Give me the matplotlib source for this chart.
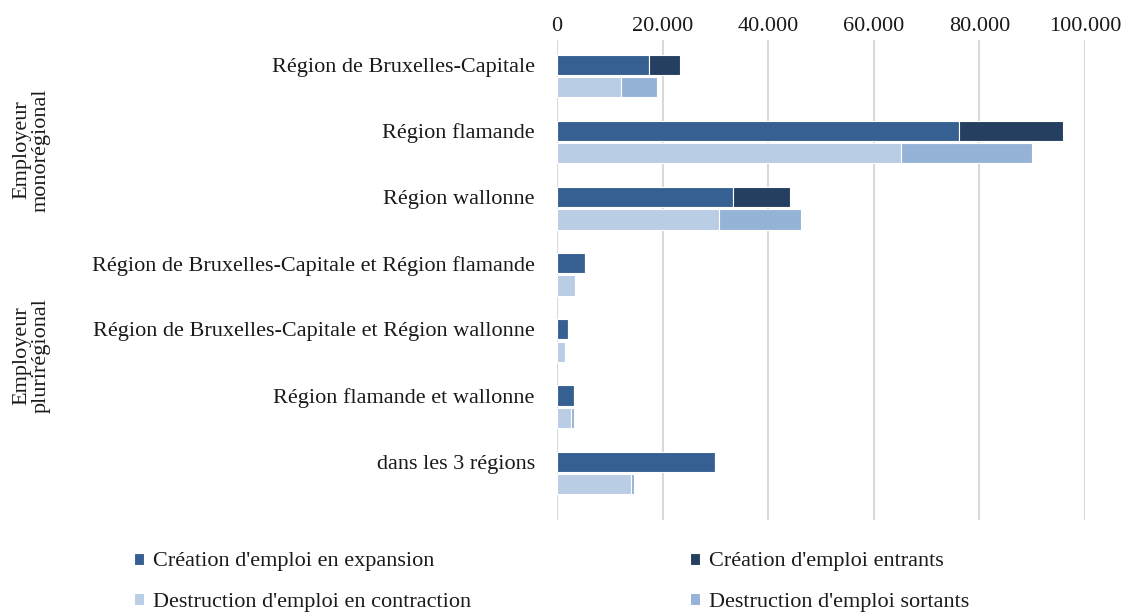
import numpy as np
import matplotlib.pyplot as plt

# Catégories (de haut en bas)
categories = [
    "Région de Bruxelles-Capitale",
    "Région flamande",
    "Région wallonne",
    "Région de Bruxelles-Capitale et Région flamande",
    "Région de Bruxelles-Capitale et Région wallonne",
    "Région flamande et wallonne",
    "dans les 3 régions",
]

creation_expansion = [17400, 76100, 33300, 5200, 2100, 3300, 29900]
creation_entrants = [5850, 19700, 10800, 0, 0, 0, 0]
destruction_contraction = [12100, 65200, 30600, 3400, 1500, 2700, 14000]
destruction_sortants = [6900, 24700, 15700, 100, 0, 500, 650]

x_ticks = [0, 20000, 40000, 60000, 80000, 100000]
x_tick_labels = ["0", "20.000", "40.000", "60.000", "80.000", "100.000"]

col_expansion = "#366092"
col_entrants = "#243F60"
col_contraction = "#B9CDE5"
col_sortants = "#95B3D7"
txt = "#1A1A1A"

plt.rcParams['font.family'] = ['Liberation Serif', 'DejaVu Serif']

fig = plt.figure(figsize=(11.24, 6.12), dpi=100)
ax = fig.add_axes([0.4956, 0.1503, 0.4697, 0.7843])

y = np.arange(len(categories))
h = 0.305
off = 0.337

b1 = ax.barh(y, creation_expansion, height=h, color=col_expansion, edgecolor="white", linewidth=0.8,
             label="Création d'emploi en expansion", zorder=3)
b2 = ax.barh(y, creation_entrants, left=creation_expansion, height=h, color=col_entrants,
             edgecolor="white", linewidth=0.8, label="Création d'emploi entrants", zorder=3)
b3 = ax.barh(y + off, destruction_contraction, height=h, color=col_contraction, edgecolor="white",
             linewidth=0.8, label="Destruction d'emploi en contraction", zorder=3)
b4 = ax.barh(y + off, destruction_sortants, left=destruction_contraction, height=h, color=col_sortants,
             edgecolor="white", linewidth=0.8, label="Destruction d'emploi sortants", zorder=3)

ax.set_xlim(0, 100000)
ax.set_ylim(6.883, -0.376)
ax.set_xticks(x_ticks)
ax.set_xticklabels(x_tick_labels, fontsize=16, color=txt)
ax.xaxis.tick_top()
ax.set_yticks(y)
ax.set_yticklabels(categories, fontsize=16, color=txt)
ax.tick_params(axis="both", length=0)
ax.tick_params(axis="y", pad=16)
ax.tick_params(axis="x", pad=3)
ax.grid(axis="x", color="#D9D9D9", linewidth=1.5, zorder=0)
for s in ax.spines.values():
    s.set_visible(False)

# Groupes
fig.text(0.028, 1 - 150 / 612, "Employeur\nmonorégional", rotation=90, ha="center", va="center",
         fontsize=16, color=txt, linespacing=1.05)
fig.text(0.028, 1 - 356 / 612, "Employeur\nplurirégional", rotation=90, ha="center", va="center",
         fontsize=16, color=txt, linespacing=1.05)

# Légende (remplie ligne par ligne)
handles = [b1, b3, b2, b4]
labels = [hd.get_label() for hd in handles]
leg = fig.legend(handles, labels, ncol=2, loc="center", bbox_to_anchor=(0.491, 1 - 582 / 612),
                 frameon=False, fontsize=16, handlelength=0.45, handleheight=0.45,
                 handletextpad=0.4, columnspacing=9.85, labelspacing=0.95)
for t in leg.get_texts():
    t.set_color(txt)

fig.savefig("out.png", dpi=100)
